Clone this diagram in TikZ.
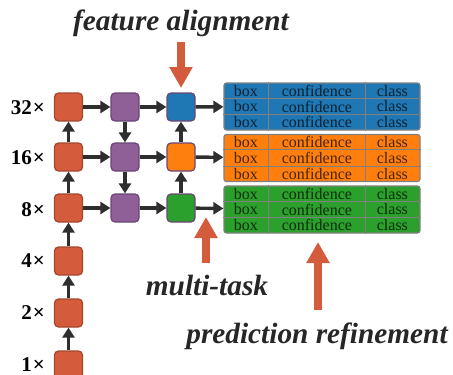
\documentclass[tikz,border=0pt]{standalone}
\usepackage{fontspec}
\setmainfont{Liberation Serif}
\usetikzlibrary{arrows.meta}
\definecolor{bred}{HTML}{D45C3C}
\definecolor{bredd}{HTML}{A5452C}
\definecolor{bpur}{HTML}{8E6097}
\definecolor{bpurd}{HTML}{6B4575}
\definecolor{bblue}{HTML}{1F77B4}
\definecolor{borange}{HTML}{FF7F0E}
\definecolor{bgreen}{HTML}{2CA02C}
\definecolor{tgray}{HTML}{808080}
\definecolor{arrred}{HTML}{D45C3C}
\tikzset{
  x=1pt, y=-1pt,
  blk/.style={draw, line width=1.2pt, rounded corners=4pt, minimum width=28pt, minimum height=28pt, inner sep=0pt},
  redbox/.style={blk, fill=bred, draw=bredd},
  purbox/.style={blk, fill=bpur, draw=bpurd},
  colbox/.style={blk, draw=bpurd},
  conn/.style={line width=3.4pt, draw=black!82, -{Triangle[length=10pt,width=12pt]}},
  tbl/.style={draw=tgray, line width=1.2pt, rounded corners=2.5pt, minimum width=196pt, minimum height=47pt, inner sep=0pt},
  tline/.style={draw=tgray, line width=1.1pt},
  ttext/.style={font=\fontsize{16}{16}\selectfont, text=black, text opacity=0.72, inner sep=0pt},
  scl/.style={font=\fontsize{21}{21}\selectfont\bfseries, anchor=east, inner sep=0pt},
  bigarr/.style={line width=8pt, draw=arrred, -{Triangle[length=21pt,width=22pt]}},
  lbl/.style={font=\fontsize{29.3}{29.3}\selectfont\bfseries\itshape, text=black!85, inner sep=0pt, anchor=base},
}
\newcommand{\mktable}[3]{%
  \node[tbl, fill=#3] (#1) at (322,#2) {};
  \draw[tline] ([yshift=-15.67pt]#1.north west) -- ([yshift=-15.67pt]#1.north east);
  \draw[tline] ([yshift=15.67pt]#1.south west) -- ([yshift=15.67pt]#1.south east);
  \draw[tline] ([xshift=45pt]#1.north west) -- ([xshift=45pt]#1.south west);
  \draw[tline] ([xshift=142pt]#1.north west) -- ([xshift=142pt]#1.south west);
  \foreach \dy/\k in {-15.67/a,0/b,15.67/c}{
    \node[ttext] (#1box\k) at ([yshift=-\dy pt]#1.west) [xshift=22.5pt] {box};
    \node[ttext] (#1conf\k) at ([yshift=-\dy pt]#1.west) [xshift=93.5pt] {confidence};
    \node[ttext] (#1cls\k) at ([yshift=-\dy pt]#1.west) [xshift=169pt] {class};
  }%
}
\begin{document}
\begin{tikzpicture}
\useasboundingbox (0,0) rectangle (453,375);
% red column
\node[redbox] (r1) at (68.5,365) {};
\node[redbox] (r2) at (68.5,313) {};
\node[redbox] (r3) at (68.5,261) {};
\node[redbox] (r4) at (68.5,208) {};
\node[redbox] (r5) at (68.5,157) {};
\node[redbox] (r6) at (68.5,107) {};
% purple column
\node[purbox] (p4) at (125,208) {};
\node[purbox] (p5) at (125,157) {};
\node[purbox] (p6) at (125,107) {};
% third column
\node[colbox, fill=bgreen] (c4) at (181,208) {};
\node[colbox, fill=borange] (c5) at (181,157) {};
\node[colbox, fill=bblue] (c6) at (181,107) {};
% scale labels
\node[scl] (l1) at (45,365) {1\kern1pt×};
\node[scl] (l2) at (45,313) {2\kern1pt×};
\node[scl] (l3) at (45,261) {4\kern1pt×};
\node[scl] (l4) at (45,210) {8\kern1pt×};
\node[scl] (l5) at (45,158) {16\kern1pt×};
\node[scl] (l6) at (45,108) {32\kern1pt×};
% tables
\mktable{t6}{106.5}{bblue}
\mktable{t5}{158}{borange}
\mktable{t4}{209.5}{bgreen}
% connectors
\draw[conn] (r1) -- (r2);
\draw[conn] (r2) -- (r3);
\draw[conn] (r3) -- (r4);
\draw[conn] (r4) -- (r5);
\draw[conn] (r5) -- (r6);
\draw[conn] (r6) -- (p6);
\draw[conn] (r5) -- (p5);
\draw[conn] (r4) -- (p4);
\draw[conn] (p6) -- (p5);
\draw[conn] (p5) -- (p4);
\draw[conn] (p6) -- (c6);
\draw[conn] (p5) -- (c5);
\draw[conn] (p4) -- (c4);
\draw[conn] (c4) -- (c5);
\draw[conn] (c5) -- (c6);
\draw[conn] (c6) -- (t6);
\draw[conn] (c5) -- (t5);
\draw[conn] (c4) -- (t4);
% labels with arrows
\node[lbl] (fa) at (181,30) {feature alignment};
\node[lbl] (mt) at (207,295) {multi-task};
\node[lbl] (pr) at (317,343) {prediction refinement};
\coordinate (fa0) at (181,42);
\coordinate (fa1) at (181,88);
\coordinate (mt0) at (206,263);
\coordinate (mt1) at (206,217);
\coordinate (pr0) at (318,310);
\coordinate (pr1) at (318,242);
\draw[bigarr] (fa0) -- (fa1);
\draw[bigarr] (mt0) -- (mt1);
\draw[bigarr] (pr0) -- (pr1);
\end{tikzpicture}
\end{document}
